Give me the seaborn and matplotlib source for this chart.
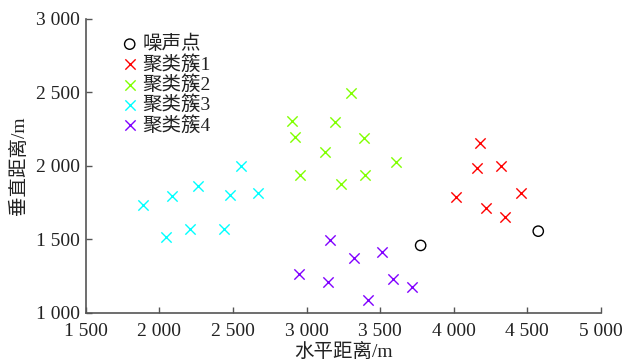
import matplotlib
matplotlib.use("Agg")
import matplotlib.pyplot as plt
import seaborn as sns

sns.set_theme(style="ticks")
plt.rcParams["font.family"] = ["Liberation Serif", "Noto Sans CJK SC"]
plt.rcParams["axes.unicode_minus"] = False

# noise points
noise_x = [3775, 4574]
noise_y = [1459, 1556]

# cluster 1
c1_x = [4178, 4155, 4320, 4013, 4456, 4216, 4350]
c1_y = [2158, 1984, 1997, 1790, 1817, 1715, 1652]

# cluster 2
c2_x = [3303, 2900, 3192, 2922, 3387, 3122, 3607, 2954, 3398, 3233]
c2_y = [2499, 2308, 2301, 2199, 2192, 2093, 2027, 1936, 1936, 1879]

# cluster 3
c3_x = [1889, 2089, 2263, 2477, 2667, 2048, 2207, 2438, 2553]
c3_y = [1734, 1797, 1865, 1804, 1813, 1514, 1570, 1570, 2001]

# cluster 4
c4_x = [2948, 3160, 3321, 3510, 3149, 3584, 3718, 3417]
c4_y = [1268, 1493, 1373, 1413, 1207, 1228, 1177, 1087]

labels = ["噪声点", "聚类簇1", "聚类簇2", "聚类簇3", "聚类簇4"]
colors = ["black", "#ff0000", "#80ff00", "#00ffff", "#8000ff"]

x_ticks = [1500, 2000, 2500, 3000, 3500, 4000, 4500, 5000]
y_ticks = [1000, 1500, 2000, 2500, 3000]

fig = plt.figure(figsize=(6.4, 3.63), dpi=100)
ax = fig.add_axes([0.134, 0.138, 0.805, 0.81])

sns.scatterplot(x=noise_x, y=noise_y, ax=ax, marker="o", s=55,
                facecolor="none", edgecolor=colors[0], linewidth=1.0,
                label=labels[0])
groups = [(c1_x, c1_y), (c2_x, c2_y), (c3_x, c3_y), (c4_x, c4_y)]
for (gx, gy), lab, col in zip(groups, labels[1:], colors[1:]):
    sns.scatterplot(x=gx, y=gy, ax=ax, marker="x", s=55, color=col,
                    linewidth=1.0, label=lab)

ax.set_xlim(1500, 5000)
ax.set_ylim(1000, 3000)
ax.set_xticks(x_ticks)
ax.set_yticks(y_ticks)
fmt = lambda v: f"{v:,}".replace(",", " ")
ax.set_xticklabels([fmt(v) for v in x_ticks])
ax.set_yticklabels([fmt(v) for v in y_ticks])

sns.despine(ax=ax)
for side in ("left", "bottom"):
    ax.spines[side].set_color("#555555")
    ax.spines[side].set_linewidth(1.2)
ax.tick_params(direction="in", length=4, width=1.0, color="#555555",
               labelsize=14, labelcolor="#222222")
ax.tick_params(axis="x", pad=7)
ax.tick_params(axis="y", pad=4)

ax.set_xlabel("水平距离/m", fontsize=14, color="#222222", labelpad=2)
ax.set_ylabel("垂直距离/m", fontsize=14, color="#222222", labelpad=6)

leg = ax.legend(loc="upper left", bbox_to_anchor=(0.04, 0.985), frameon=False,
                fontsize=14, handletextpad=0.05, labelspacing=0.08,
                handlelength=1.2, borderaxespad=0.2)
for t in leg.get_texts():
    t.set_color("#222222")

fig.savefig("out.png", dpi=100)
